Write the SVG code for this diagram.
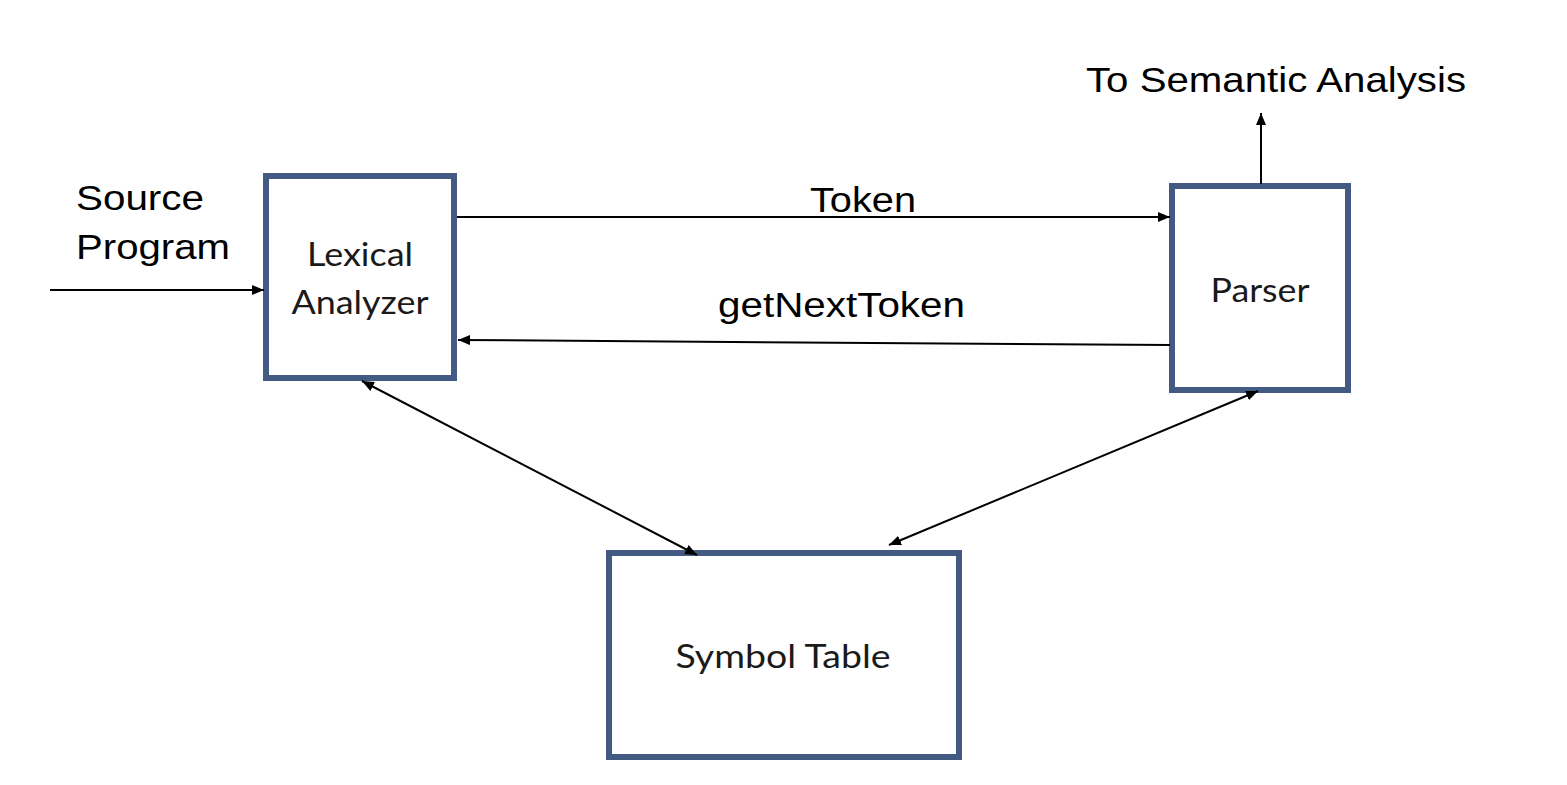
<svg xmlns="http://www.w3.org/2000/svg" width="1567" height="785" viewBox="0 0 1567 785">
<style>
.box{fill:#fff;stroke:#435a82;stroke-width:6}
.conn{stroke:#000;stroke-width:2;fill:none}
.lbl{font-family:"Liberation Sans",Arial,sans-serif;font-size:35px;fill:#000}
.nl{font-family:Lato,"Open Sans",sans-serif;font-size:32px;fill:#1a1a1a;text-anchor:middle}
</style>
<defs>
<marker id="ah" viewBox="0 0 12 10" refX="12" refY="5" markerWidth="12" markerHeight="10" markerUnits="userSpaceOnUse" orient="auto-start-reverse">
<path d="M0,0 L12,5 L0,10 z" fill="#000"/>
</marker>
</defs>
<rect width="1567" height="785" fill="#fff"/>
<g id="lexical">
<rect class="box" x="266" y="176" width="188" height="202"/>
<text class="nl" x="360" y="266" textLength="106" lengthAdjust="spacingAndGlyphs">Lexical</text>
<text class="nl" x="360" y="314" textLength="137" lengthAdjust="spacingAndGlyphs">Analyzer</text>
</g>
<g id="parser">
<rect class="box" x="1172" y="186" width="176" height="204"/>
<text class="nl" x="1260" y="302" textLength="99" lengthAdjust="spacingAndGlyphs">Parser</text>
</g>
<g id="symtab">
<rect class="box" x="609" y="553" width="350" height="204"/>
<text class="nl" x="783" y="668" textLength="215" lengthAdjust="spacingAndGlyphs">Symbol Table</text>
</g>
<g id="connectors">
<line class="conn" x1="50" y1="290" x2="264" y2="290" marker-end="url(#ah)"/>
<line class="conn" x1="457" y1="217" x2="1170" y2="217" marker-end="url(#ah)"/>
<line class="conn" x1="1170" y1="345" x2="458" y2="340" marker-end="url(#ah)"/>
<line class="conn" x1="1261" y1="184" x2="1261" y2="113" marker-end="url(#ah)"/>
<line class="conn" x1="362" y1="381" x2="697" y2="555" marker-start="url(#ah)" marker-end="url(#ah)"/>
<line class="conn" x1="1258" y1="391" x2="889" y2="545" marker-start="url(#ah)" marker-end="url(#ah)"/>
</g>
<g id="labels">
<text class="lbl" x="76" y="210" textLength="128" lengthAdjust="spacingAndGlyphs">Source</text>
<text class="lbl" x="76" y="259" textLength="154" lengthAdjust="spacingAndGlyphs">Program</text>
<text class="lbl" x="810" y="212" textLength="106" lengthAdjust="spacingAndGlyphs">Token</text>
<text class="lbl" x="718" y="317" textLength="247" lengthAdjust="spacingAndGlyphs">getNextToken</text>
<text class="lbl" x="1086" y="92" textLength="380" lengthAdjust="spacingAndGlyphs">To Semantic Analysis</text>
</g>
</svg>
